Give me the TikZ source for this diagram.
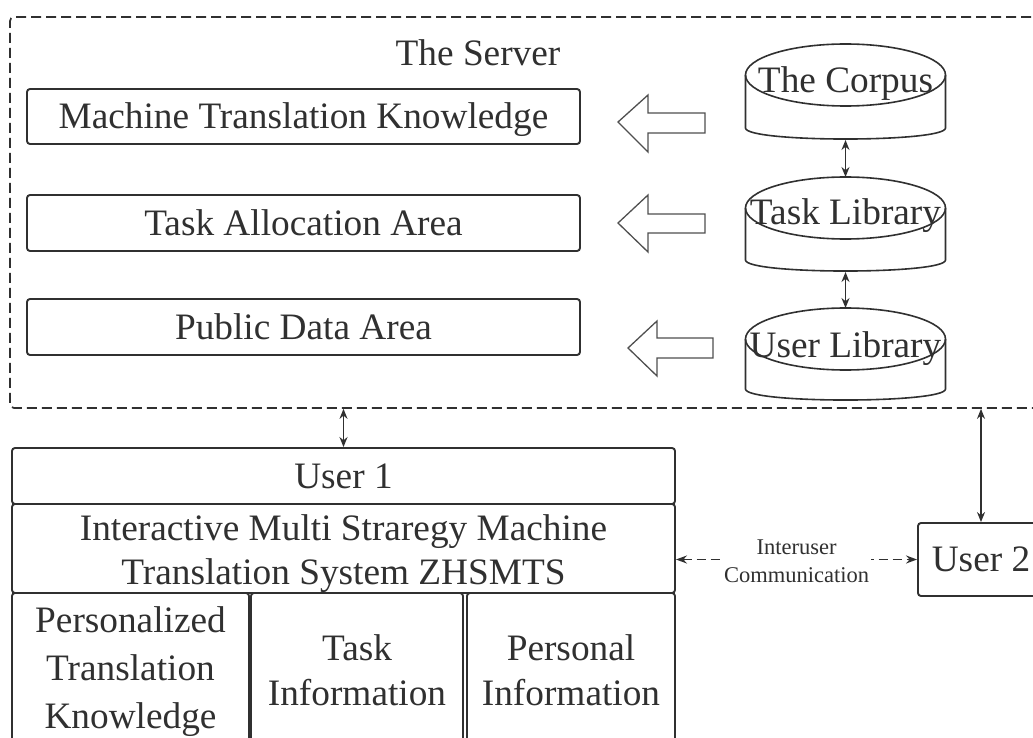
\documentclass[tikz,border=0pt]{standalone}
\usepackage{fontspec}
\setmainfont{Liberation Serif}
\usetikzlibrary{arrows.meta}
\definecolor{ln}{HTML}{303030}
\definecolor{tx}{HTML}{303030}
\newcommand\bigf{\fontsize{37.3}{44}\selectfont}
\newcommand\smallf{\fontsize{22.5}{28}\selectfont}
\newcommand\mlines[1]{\begin{tabular}[t]{@{}c@{}}#1\end{tabular}}
\begin{document}
\begin{tikzpicture}[x=1pt,y=-1pt,
  box/.style={draw=ln, line width=1.9pt, rounded corners=3pt, inner sep=0pt, text=tx, font=\bigf},
  one/.style={text height=24.5pt, text depth=0pt},
  lab/.style={inner sep=0pt, text=tx, font=\bigf, text height=24.5pt, text depth=0pt},
  cyl/.style={draw=ln, line width=1.6pt},
  dbl/.style={draw=ln, line width=1.5pt, {Stealth[length=10pt,width=8pt]}-{Stealth[length=10pt,width=8pt]}},
  dsh/.style={draw=ln, line width=1.6pt, dash pattern=on 9pt off 5pt, {Stealth[length=11pt,width=8pt]}-{Stealth[length=11pt,width=8pt]}},
  blk/.style={draw=ln!85, line width=1.3pt, line join=miter},
]
\useasboundingbox (0,0) rectangle (1033,738);
\clip (0,0) rectangle (1033,738);

% server area
\node[draw=ln, line width=1.7pt, dash pattern=on 10pt off 5pt, rounded corners=4pt,
      minimum width=1040pt, minimum height=391pt, inner sep=0pt] (server) at (530,212.5) {};
\node[lab] (title) at (478,53) {The Server};

% left boxes
\node[box, one, minimum width=553pt, minimum height=55pt] (mtk) at (303.5,116.5) {Machine Translation Knowledge};
\node[box, one, minimum width=553pt, minimum height=56pt] (taa) at (303.5,223) {Task Allocation Area};
\node[box, one, minimum width=553pt, minimum height=56pt] (pda) at (303.5,327) {Public Data Area};

% block arrows
\draw[blk] (618,122) -- (648,95) -- (648,113) -- (705,113) -- (705,133) -- (648,133) -- (648,152) -- cycle;
\draw[blk] (618,223) -- (648,195) -- (648,214) -- (705,214) -- (705,233) -- (648,233) -- (648,252) -- cycle;
\draw[blk] (628,348) -- (657,321) -- (657,338) -- (713,338) -- (713,358) -- (657,358) -- (657,376) -- cycle;

% cylinders
\draw[cyl] (745.5,75) -- (745.5,128) .. controls (745.5,142.7) and (945.5,142.7) .. (945.5,128) -- (945.5,75);
\draw[cyl] (845.5,75) ellipse [x radius=100, y radius=31];
\node[lab] (corpus) at (845.5,80.75) {The Corpus};
\draw[cyl] (745.5,208) -- (745.5,260) .. controls (745.5,274.7) and (945.5,274.7) .. (945.5,260) -- (945.5,208);
\draw[cyl] (845.5,208) ellipse [x radius=100, y radius=31];
\node[lab] (tasklib) at (845.5,212.75) {Task Library};
\draw[cyl] (745.5,339) -- (745.5,389) .. controls (745.5,403.7) and (945.5,403.7) .. (945.5,389) -- (945.5,339);
\draw[cyl] (845.5,339) ellipse [x radius=100, y radius=31];
\node[lab] (userlib) at (845.5,344.75) {User Library};

\coordinate (corpusB) at (845.5,140);
\coordinate (taskT) at (845.5,177);
\coordinate (taskB) at (845.5,272);
\coordinate (userT) at (845.5,308);
\draw[dbl] (corpusB) -- (taskT);
\draw[dbl] (taskB) -- (userT);

% user 1
\node[box, one, minimum width=663pt, minimum height=56pt] (user1) at (343.5,476) {User 1};
\node[box, minimum width=663pt, minimum height=89pt, text height=24.5pt, text depth=41.5pt] (zhs) at (343.5,548.5)
  {\mlines{Interactive Multi Straregy Machine\\Translation System ZHSMTS}};
\node[box, minimum width=237pt, minimum height=154pt, text height=24.5pt, text depth=100.5pt] (ptk) at (130.5,670)
  {\fontsize{37.3}{48}\selectfont\mlines{Personalized\\Translation\\Knowledge}};
\node[box, minimum width=212pt, minimum height=154pt, text height=24.5pt, text depth=44.5pt] (ti) at (357,670)
  {\fontsize{37.3}{45}\selectfont\mlines{Task\\Information}};
\node[box, minimum width=208pt, minimum height=154pt, text height=24.5pt, text depth=44.5pt] (pi) at (571,670)
  {\fontsize{37.3}{45}\selectfont\mlines{Personal\\Information}};

% user 2
\node[box, one, minimum width=126pt, minimum height=73pt] (user2) at (981,559.5) {User 2};

% connectors
\draw[dbl] (server.south -| user1.north) -- (user1.north);
\draw[dbl] (server.south -| user2.north) -- (user2.north);
\draw[dsh] (user2.west -| zhs.east) -- (user2.west)
  node[midway, fill=white, inner xsep=2pt, inner ysep=3pt, text=tx, font=\smallf, text height=20pt, text depth=31pt] (comm)
  {\begin{tabular}[t]{@{}c@{}}Interuser\\Communication\end{tabular}};
\end{tikzpicture}
\end{document}
